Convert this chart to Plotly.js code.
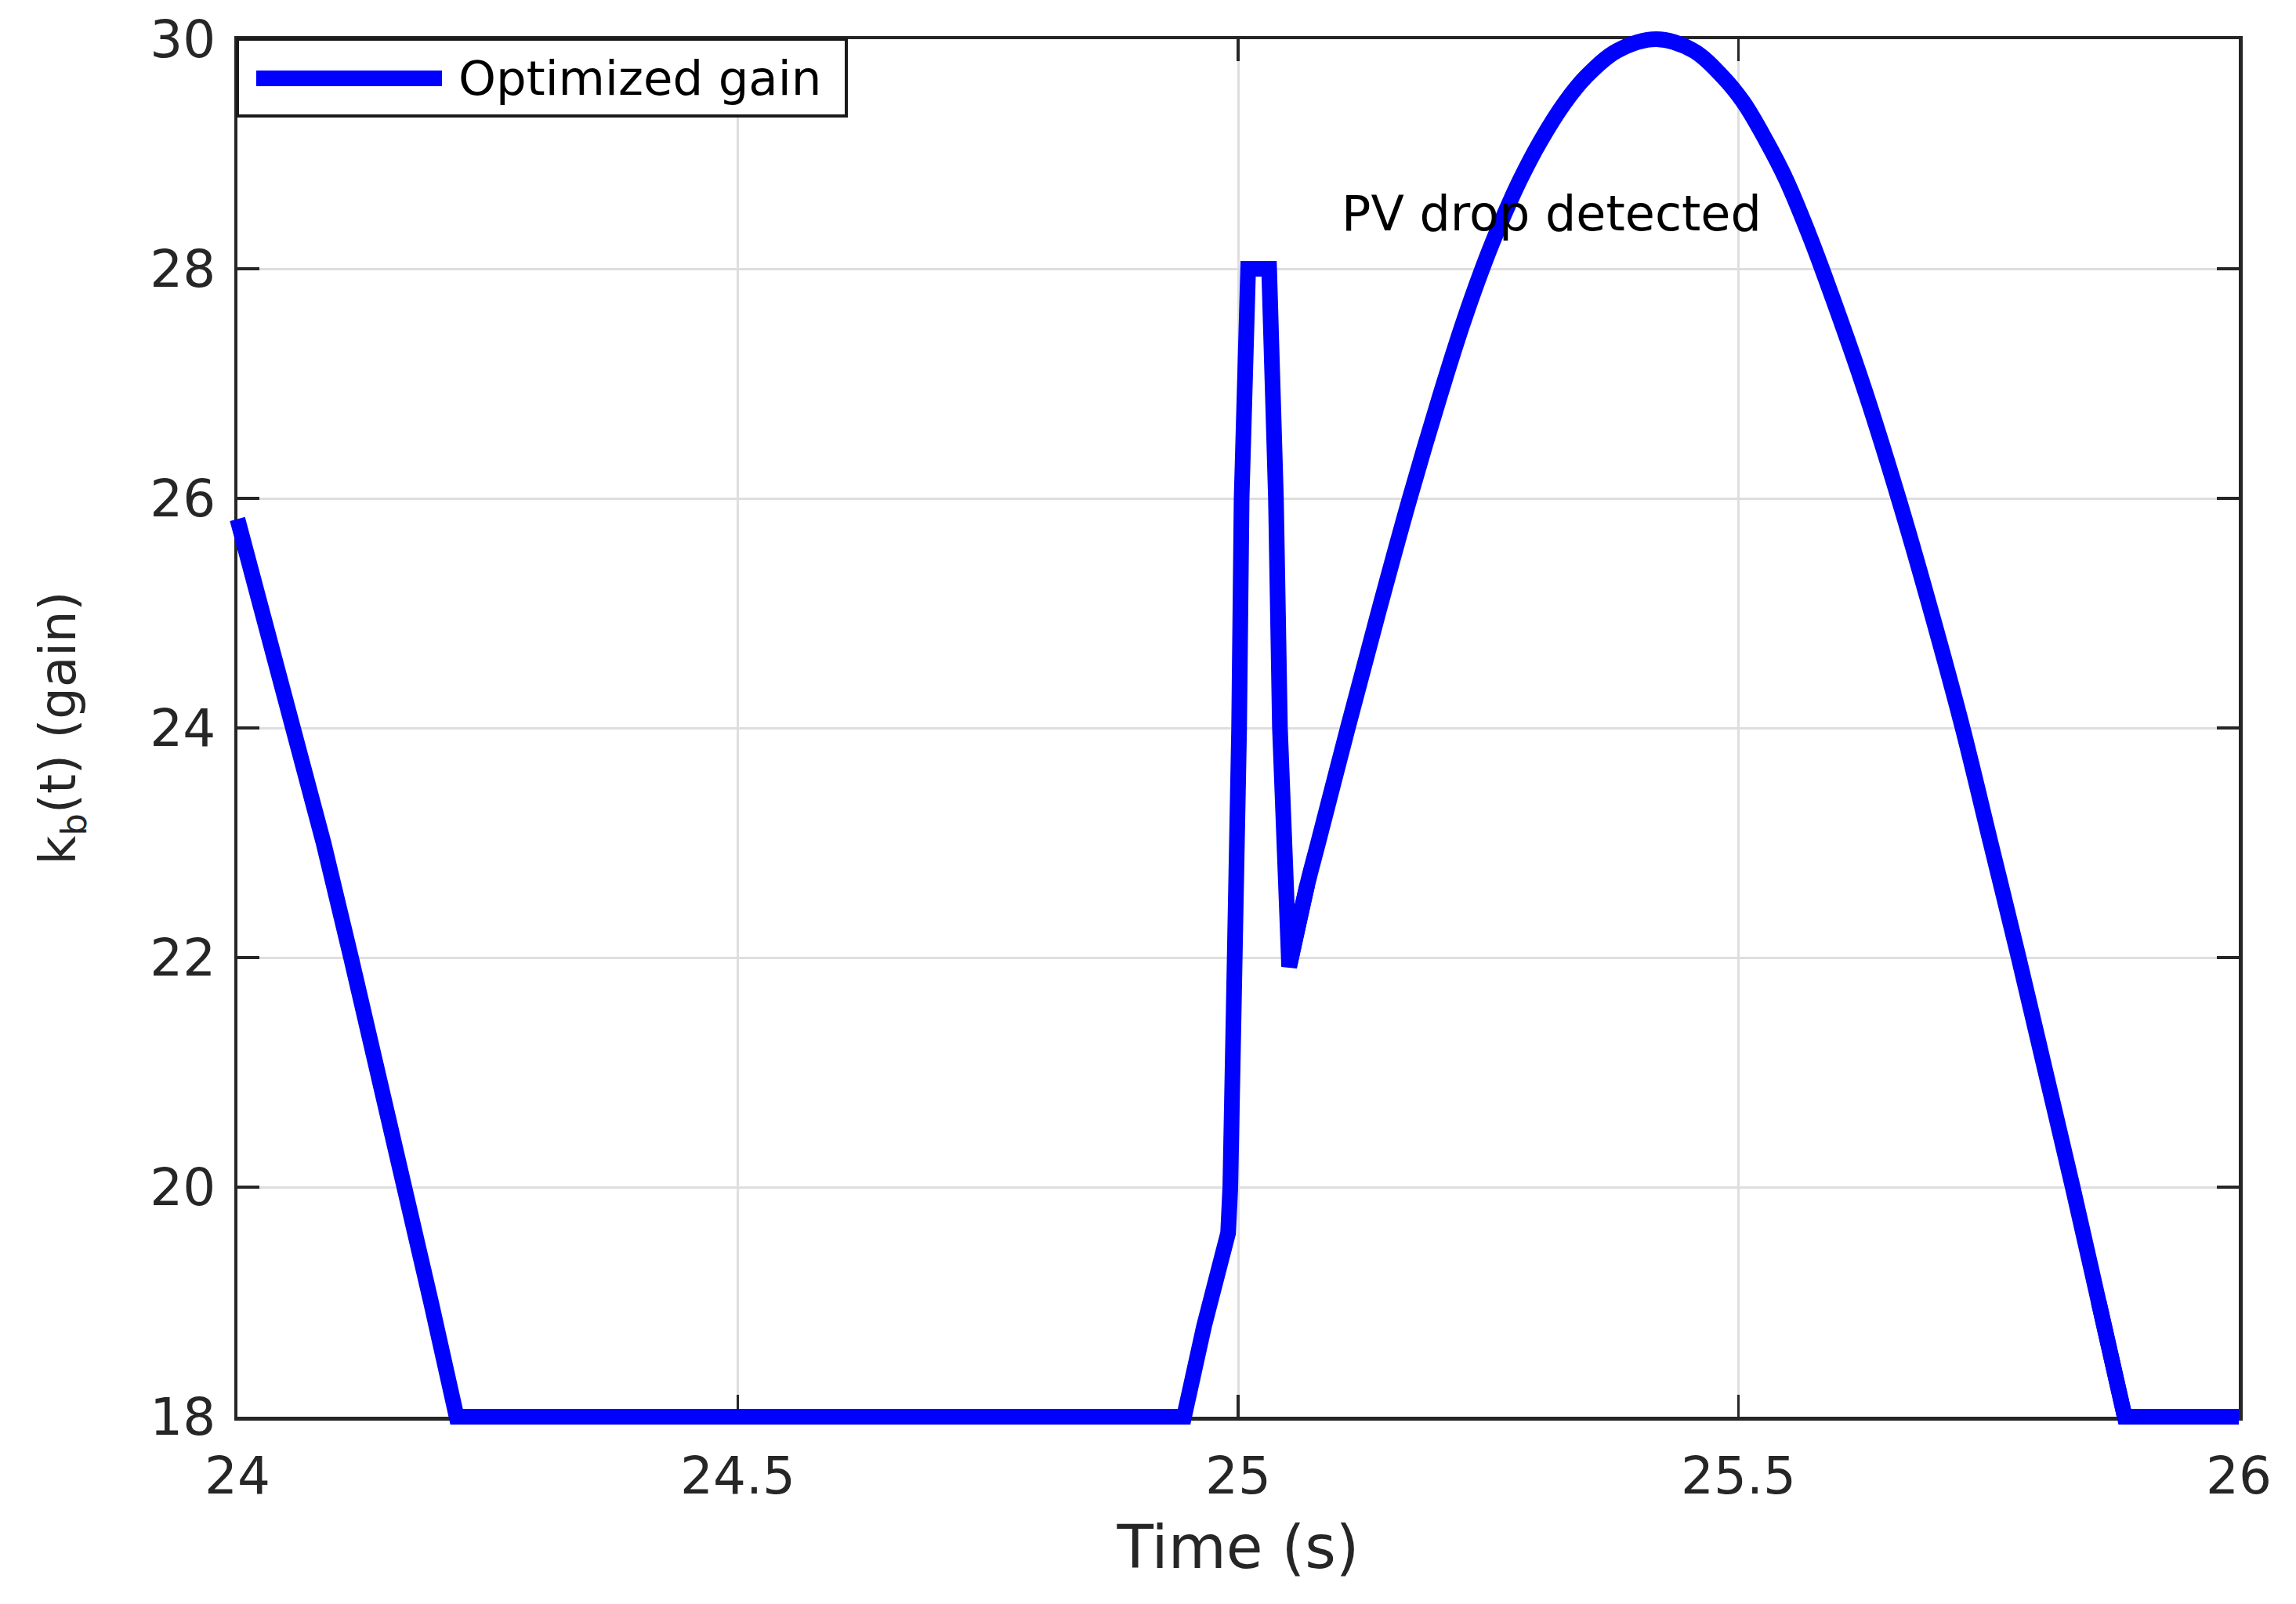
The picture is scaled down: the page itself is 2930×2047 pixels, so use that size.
<!DOCTYPE html>
<html>
<head>
<meta charset="utf-8">
<script src="https://cdn.plot.ly/plotly-3.0.1.min.js"></script>
<style>
  html, body { margin: 0; padding: 0; background: #ffffff; }
  #chart { width: 2930px; height: 2047px; }
</style>
</head>
<body>
<div id="chart"></div>
<script>
// values: time (s) and optimized gain k_b(t)
const timeS = [
  24.000, 24.026, 24.058, 24.086, 24.1135, 24.141, 24.1675, 24.1934, 24.219,
  24.946, 24.966, 24.990, 24.9922, 24.9965, 24.999, 25.001, 25.0035, 25.006,
  25.0085, 25.010, 25.031, 25.0352, 25.0378, 25.0418, 25.0457, 25.051,
  25.069, 25.080, 25.1096, 25.140, 25.1715, 25.2055, 25.2245, 25.244, 25.258,
  25.2815, 25.302, 25.3267, 25.3478, 25.379, 25.418, 25.455, 25.484, 25.505,
  25.528, 25.548, 25.570, 25.5835, 25.624, 25.660, 25.693, 25.724, 25.752,
  25.780, 25.807, 25.834, 25.860, 25.886, 26.000
];
const gain = [
  25.82, 25.0, 24.0, 23.0, 22.0, 21.0, 20.0, 19.0, 18.0,
  18.0, 18.79, 19.60, 20.0, 21.47, 22.0, 24.0, 26.0, 27.2,
  27.9, 28.0, 28.0, 27.0, 26.0, 24.0, 22.63, 21.92,
  22.63, 23.0, 24.0, 25.0, 26.0, 27.0, 27.52, 28.0, 28.31,
  28.77, 29.11, 29.45, 29.675, 29.90, 30.0, 29.90, 29.675, 29.45,
  29.11, 28.77, 28.31, 28.0, 27.0, 26.0, 25.0, 24.0, 23.0,
  22.0, 21.0, 20.0, 19.0, 18.0, 18.0
];

const xTicks = [24, 24.5, 25, 25.5, 26];
const yTicks = [18, 20, 22, 24, 26, 28, 30];
const xRange = [24, 26];
const yRange = [18, 30];

const seriesName = "Optimized gain";
const noteText = "PV drop detected";
const noteAt = [25.313, 28.48];

const axisColor = "#262626";
const fontName = "DejaVu Sans, Verdana, sans-serif";

// the curve sits on a slightly larger, hidden subplot so it is not clipped
// at the box edges (the reference draws the full line width over the axes)
const W = 2930, H = 2047;
const box = { l: 303, r: 73, t: 50, b: 239 };
const pad = 40;
const mL = box.l - pad, mR = box.r - pad, mT = box.t - pad, mB = box.b - pad;
const areaW = W - mL - mR;
const areaH = H - mT - mB;
const boxW = W - box.l - box.r;
const boxH = H - box.t - box.b;
const xPad = pad * (xRange[1] - xRange[0]) / boxW;
const yPad = pad * (yRange[1] - yRange[0]) / boxH;

// pixel position on the page -> paper coordinates
const px = v => (v - mL) / areaW;
const py = v => (H - mB - v) / areaH;

// the smooth arc (after the dip, down to the floor) is drawn as a spline,
// the straight parts as plain lines; pieces overlap by one segment
const iDip = gain.indexOf(21.92);
const iFloor = timeS.indexOf(25.886);
const pieces = [
  { from: 0, to: iDip + 2, shape: "linear" },
  { from: iDip, to: iFloor + 1, shape: "spline" },
  { from: iFloor - 1, to: timeS.length, shape: "linear" }
];

const blue = "#0000ff";
const lineW = 20;

const data = [{
  // keeps the boxed axes (x, y) on the page
  x: [], y: [], type: "scatter", mode: "lines",
  showlegend: false, hoverinfo: "skip"
}].concat(pieces.map(p => ({
  x: timeS.slice(p.from, p.to),
  y: gain.slice(p.from, p.to),
  xaxis: "x2",
  yaxis: "y2",
  type: "scatter",
  mode: "lines",
  name: seriesName,
  showlegend: false,
  line: { color: blue, width: lineW, shape: p.shape, smoothing: 1 }
})));

const axisCommon = {
  showline: true,
  mirror: "ticks",
  linecolor: axisColor,
  linewidth: 4.5,
  ticks: "inside",
  ticklen: 28,
  tickwidth: 3.5,
  tickcolor: axisColor,
  showgrid: true,
  gridcolor: "#dedede",
  gridwidth: 3,
  zeroline: false,
  tickfont: { family: fontName, size: 66, color: axisColor }
};

const hidden = {
  visible: false, showgrid: false, zeroline: false, showline: false,
  fixedrange: true
};

const layout = {
  width: W,
  height: H,
  margin: { l: mL, r: mR, t: mT, b: mB },
  paper_bgcolor: "#ffffff",
  plot_bgcolor: "rgba(0,0,0,0)",
  showlegend: false,
  xaxis: Object.assign({}, axisCommon, {
    domain: [pad / areaW, 1 - pad / areaW],
    anchor: "y",
    range: xRange,
    tickvals: xTicks,
    ticktext: xTicks.map(String),
    ticklabelstandoff: 14,
    title: { text: "Time (s)", font: { family: fontName, size: 76, color: axisColor }, standoff: 28 }
  }),
  yaxis: Object.assign({}, axisCommon, {
    domain: [pad / areaH, 1 - pad / areaH],
    anchor: "x",
    range: yRange,
    tickvals: yTicks,
    ticktext: yTicks.map(String),
    ticklabelstandoff: 10,
    title: { text: "k<sub>b</sub>(t) (gain)", font: { family: fontName, size: 64, color: axisColor }, standoff: 75 }
  }),
  xaxis2: Object.assign({}, hidden, {
    domain: [0, 1], anchor: "y2",
    range: [xRange[0] - xPad, xRange[1] + xPad]
  }),
  yaxis2: Object.assign({}, hidden, {
    domain: [0, 1], anchor: "x2",
    range: [yRange[0] - yPad, yRange[1] + yPad]
  }),
  // MATLAB-style legend box with a full-width line sample
  shapes: [
    {
      type: "rect", xref: "paper", yref: "paper", layer: "above",
      x0: px(303), x1: px(1080), y0: py(50), y1: py(148),
      fillcolor: "#ffffff", line: { color: "#1a1a1a", width: 4 }
    },
    {
      type: "line", xref: "paper", yref: "paper", layer: "above",
      x0: px(327), x1: px(564), y0: py(100), y1: py(100),
      line: { color: blue, width: lineW }
    }
  ],
  annotations: [
    {
      x: px(583), y: py(100), xref: "paper", yref: "paper",
      text: seriesName, showarrow: false,
      xanchor: "left", yanchor: "middle",
      font: { family: fontName, size: 61, color: "#000000" }
    },
    {
      x: noteAt[0], y: noteAt[1], xref: "x2", yref: "y2",
      text: noteText, showarrow: false,
      xanchor: "center", yanchor: "middle",
      font: { family: fontName, size: 62, color: "#000000" }
    }
  ]
};

Plotly.newPlot("chart", data, layout, { displayModeBar: false, staticPlot: true });
</script>
</body>
</html>
